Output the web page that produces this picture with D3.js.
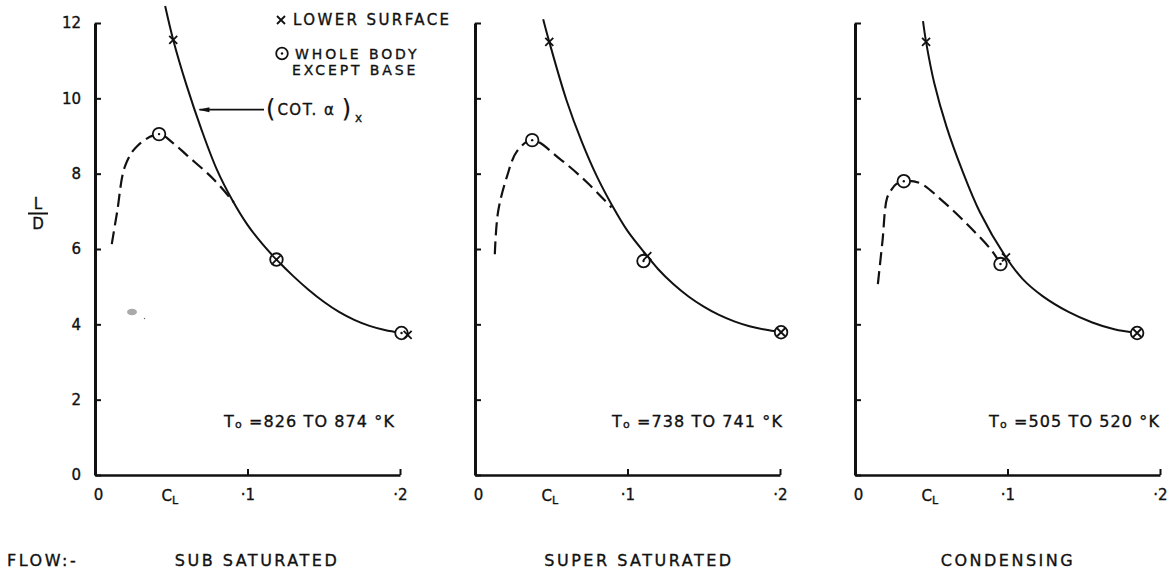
<!DOCTYPE html>
<html>
<head>
<meta charset="utf-8">
<script src="https://cdn.jsdelivr.net/npm/d3@7"></script>
<style>
  html, body { margin: 0; padding: 0; background: #fff; }
  svg { display: block; }
  text { font-family: "DejaVu Sans", sans-serif; fill: #111; stroke: #111; stroke-width: 0.35px; }
</style>
</head>
<body>
<svg id="chart" width="1176" height="570"></svg>
<script>
// ---- data -------------------------------------------------------------
const flowLabels = ["SUB SATURATED", "SUPER SATURATED", "CONDENSING"];
const tempRanges = ["826 TO 874", "738 TO 741", "505 TO 520"];
const xTicks = [0, 0.1, 0.2];
const xTickLabels = ["0", "·1", "·2"];
const yTicks = [0, 2, 4, 6, 8, 10, 12];

// (cot α)x curve, lower surface: [C_L, L/D]
const cotSub = [[0.046, 12.45], [0.0513, 11.55], [0.060, 10.35], [0.070, 9.15], [0.080, 8.1],
                [0.090, 7.30], [0.100, 6.64], [0.110, 6.12], [0.119, 5.72], [0.130, 5.28],
                [0.140, 4.92], [0.150, 4.60], [0.160, 4.33], [0.170, 4.12], [0.180, 3.96],
                [0.190, 3.85], [0.201, 3.77]];
const cotSuper = [[0.0447, 12.1], [0.0487, 11.5], [0.060, 9.95], [0.070, 8.85], [0.080, 7.92],
                  [0.090, 7.15], [0.100, 6.48], [0.113, 5.81], [0.120, 5.47], [0.130, 5.07],
                  [0.140, 4.74], [0.150, 4.47], [0.160, 4.25], [0.170, 4.08], [0.180, 3.95],
                  [0.190, 3.86], [0.2007, 3.79]];
const cotCond = [[0.0446, 12.05], [0.0466, 11.5], [0.052, 10.4], [0.060, 9.25], [0.070, 8.12],
                 [0.082, 6.97], [0.099, 5.78], [0.110, 5.2], [0.123, 4.75], [0.140, 4.33],
                 [0.1556, 4.05], [0.170, 3.87], [0.185, 3.77]];

// whole body except base: [C_L, L/D]
const bodySub = [[0.011, 6.13], [0.0145, 6.98], [0.0197, 8.2], [0.0276, 8.73], [0.042, 9.05],
                 [0.051, 8.82], [0.0605, 8.48], [0.0776, 7.86], [0.091, 7.24]];
const bodySuper = [[0.013, 5.86], [0.0151, 6.98], [0.021, 7.93], [0.0276, 8.6], [0.0375, 8.89],
                   [0.056, 8.38], [0.0737, 7.76], [0.0895, 7.1]];
const bodyCond = [[0.015, 5.07], [0.018, 6.2], [0.021, 7.35], [0.024, 7.58], [0.027, 7.72],
                  [0.032, 7.8], [0.0425, 7.75], [0.0575, 7.27], [0.073, 6.68], [0.090, 5.94], [0.0954, 5.6]];

// measured points
const lowerPtsSub = [[0.0513, 11.55], [0.119, 5.72], [0.205, 3.72]];
const lowerPtsSuper = [[0.0487, 11.5], [0.113, 5.81], [0.2007, 3.79]];
const lowerPtsCond = [[0.0466, 11.5], [0.099, 5.78], [0.185, 3.77]];
const bodyPtsSub = [[0.042, 9.05], [0.119, 5.72], [0.201, 3.77]];
const bodyPtsSuper = [[0.0375, 8.89], [0.1105, 5.68], [0.2007, 3.79]];
const bodyPtsCond = [[0.032, 7.8], [0.0954, 5.6], [0.185, 3.77]];

const panelData = [
  { flow: flowLabels[0], temp: tempRanges[0], cot: cotSub, body: bodySub, lower: lowerPtsSub, whole: bodyPtsSub },
  { flow: flowLabels[1], temp: tempRanges[1], cot: cotSuper, body: bodySuper, lower: lowerPtsSuper, whole: bodyPtsSuper },
  { flow: flowLabels[2], temp: tempRanges[2], cot: cotCond, body: bodyCond, lower: lowerPtsCond, whole: bodyPtsCond }
];

// ---- layout -----------------------------------------------------------
const svg = d3.select("#chart");
const panelLeft = [95, 475, 855];
const panelWidth = 305;
const yTop = 23, yBottom = 475;
const ink = "#111";
const captionX = [257, 639, 1008];
const noteEnd = [395, 783, 1160];

const y = d3.scaleLinear().domain([0, 12]).range([yBottom, yTop]);

panelData.forEach((p, i) => {
  const x = d3.scaleLinear().domain([0, 0.2]).range([panelLeft[i], panelLeft[i] + panelWidth]);
  const g = svg.append("g");

  // y axis: thick spine with inward ticks
  const yAxis = d3.axisLeft(y).tickValues(yTicks).tickSizeInner(-6).tickSizeOuter(0).tickPadding(14)
    .tickFormat(i === 0 ? d3.format("d") : () => "");
  const ya = g.append("g").attr("transform", `translate(${panelLeft[i]},0)`).call(yAxis);
  ya.select(".domain").attr("stroke", ink).attr("stroke-width", 3);
  ya.selectAll(".tick line").attr("stroke", ink).attr("stroke-width", 2);
  ya.selectAll(".tick text").attr("font-size", 15).attr("fill", ink)
    .style("font-family", "DejaVu Sans, sans-serif");

  // x axis: inward ticks
  const xAxis = d3.axisBottom(x).tickValues(xTicks).tickSizeInner(-6).tickSizeOuter(0).tickPadding(14)
    .tickFormat((d, k) => xTickLabels[k]);
  const xa = g.append("g").attr("transform", `translate(0,${yBottom})`).call(xAxis);
  xa.select(".domain").attr("stroke", ink).attr("stroke-width", 2.5);
  xa.selectAll(".tick line").attr("stroke", ink).attr("stroke-width", 2)
    .attr("opacity", (d) => d === 0 ? 0 : 1);
  xa.selectAll(".tick text").attr("font-size", 15).attr("fill", ink)
    .style("font-family", "DejaVu Sans, sans-serif")
    .attr("dx", (d) => d === 0 ? 3 : 0);

  // C_L label
  const cl = g.append("text").attr("x", x(0.049)).attr("y", 501)
    .attr("text-anchor", "middle").attr("font-size", 15);
  cl.append("tspan").text("C");
  cl.append("tspan").attr("font-size", 11).attr("dy", 3).text("L");

  // curves
  const line = d3.line().x(d => x(d[0])).y(d => y(d[1])).curve(d3.curveCatmullRom.alpha(0.5));
  g.append("path").datum(p.cot).attr("d", line)
    .attr("fill", "none").attr("stroke", ink).attr("stroke-width", 2);
  g.append("path").datum(p.body).attr("d", line)
    .attr("fill", "none").attr("stroke", ink).attr("stroke-width", 2.2)
    .attr("stroke-dasharray", "13,6");

  // whole body markers: circle with centre dot
  const wb = g.selectAll(".wb").data(p.whole).enter().append("g")
    .attr("transform", d => `translate(${x(d[0])},${y(d[1])})`);
  wb.append("circle").attr("r", 6.3).attr("fill", "#fff").attr("stroke", ink).attr("stroke-width", 1.8);
  wb.append("circle").attr("r", 1.2).attr("fill", ink);

  // lower surface markers: cross
  g.selectAll(".ls").data(p.lower).enter().append("path")
    .attr("transform", d => `translate(${x(d[0])},${y(d[1])})`)
    .attr("d", "M-4,-4L4,4M-4,4L4,-4")
    .attr("stroke", ink).attr("stroke-width", 1.8).attr("fill", "none");

  // stagnation temperature note
  const t = g.append("text").attr("x", noteEnd[i]).attr("y", 427)
    .attr("text-anchor", "end").attr("font-size", 16).attr("letter-spacing", 1.1);
  t.append("tspan").text("T");
  t.append("tspan").attr("font-size", 11).attr("dy", 1).text("o");
  t.append("tspan").attr("dy", -1).text(` =${p.temp} °K`);

  // flow regime caption
  g.append("text").attr("x", captionX[i]).attr("y", 566)
    .attr("text-anchor", "middle").attr("font-size", 16).attr("letter-spacing", 2.5)
    .text(p.flow);
});

// caption prefix
svg.append("text").attr("x", 7).attr("y", 566).attr("font-size", 16).attr("letter-spacing", 2.5).text("FLOW:-");

// y axis title L/D
svg.append("text").attr("x", 38).attr("y", 209).attr("text-anchor", "middle").attr("font-size", 15).text("L");
svg.append("line").attr("x1", 28).attr("x2", 48).attr("y1", 213.5).attr("y2", 213.5)
  .attr("stroke", ink).attr("stroke-width", 2);
svg.append("text").attr("x", 38).attr("y", 229).attr("text-anchor", "middle").attr("font-size", 15).text("D");

// legend
const lg = svg.append("g");
lg.append("path").attr("d", "M277,16L285,24M277,24L285,16").attr("stroke", ink).attr("stroke-width", 1.8);
lg.append("text").attr("x", 293).attr("y", 25).attr("font-size", 15).attr("letter-spacing", 2.4).text("LOWER SURFACE");
lg.append("circle").attr("cx", 282).attr("cy", 53.5).attr("r", 5.8).attr("fill", "none").attr("stroke", ink).attr("stroke-width", 1.8);
lg.append("circle").attr("cx", 282).attr("cy", 53.5).attr("r", 1.2).attr("fill", ink);
lg.append("text").attr("x", 295).attr("y", 59).attr("font-size", 14).attr("letter-spacing", 2.9).text("WHOLE BODY");
lg.append("text").attr("x", 292).attr("y", 75).attr("font-size", 14).attr("letter-spacing", 2.9).text("EXCEPT BASE");

// (cot α)x annotation with leader arrow
const xp0 = d3.scaleLinear().domain([0, 0.2]).range([panelLeft[0], panelLeft[0] + panelWidth]);
const ax = xp0(0.0665);
const ay = y(9.7);
svg.append("line").attr("x1", ax + 3).attr("x2", 264).attr("y1", ay).attr("y2", ay)
  .attr("stroke", ink).attr("stroke-width", 1.8);
svg.append("path").attr("d", `M${ax + 2},${ay}L${ax + 13},${ay - 2.5}L${ax + 13},${ay + 2.5}Z`).attr("fill", ink);
const ann = svg.append("text").attr("x", 266).attr("y", ay + 5).attr("font-size", 15);
ann.append("tspan").attr("font-size", 24).attr("dy", 2).attr("stroke-width", 0.2).text("(");
ann.append("tspan").attr("dy", -2).attr("dx", 2).attr("letter-spacing", 1.5).text("COT. α ");
ann.append("tspan").attr("font-size", 24).attr("dy", 2).attr("stroke-width", 0.2).text(")");
ann.append("tspan").attr("font-size", 12).attr("dy", 5).attr("dx", 4).text("x");

// small blot near the first panel
svg.append("ellipse").attr("cx", 132).attr("cy", 312).attr("rx", 5).attr("ry", 3.2).attr("fill", "#aaa");
svg.append("circle").attr("cx", 144.5).attr("cy", 318.5).attr("r", 0.7).attr("fill", "#666");
</script>
</body>
</html>
